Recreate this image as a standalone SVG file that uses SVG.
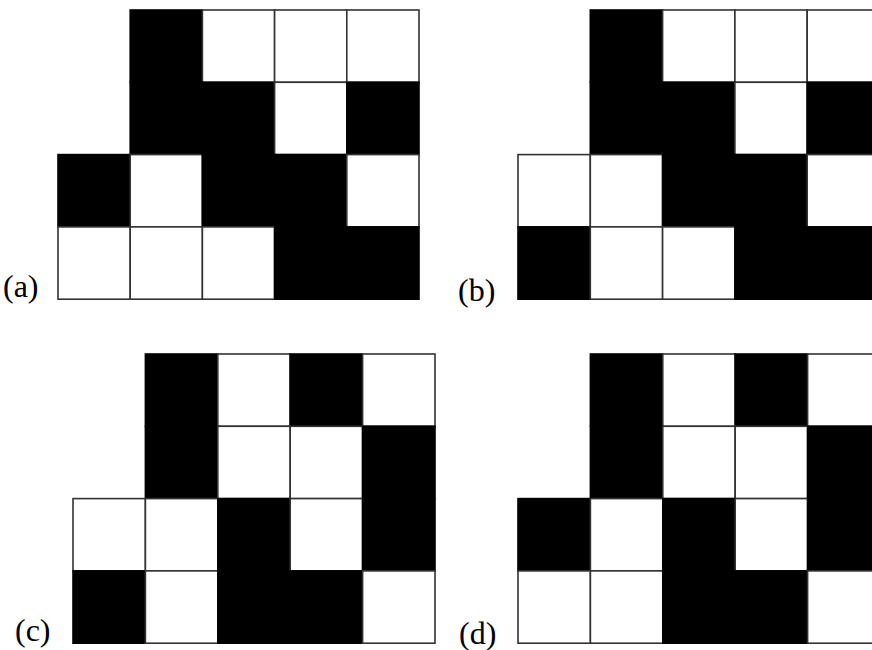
<svg xmlns="http://www.w3.org/2000/svg" width="872" height="650" viewBox="0 0 872 650">
<style>
.w{fill:#fff;stroke:#333;stroke-width:1.6}
.b{fill:#000;stroke:#000;stroke-width:1.6}
.lbl{font-family:"Liberation Serif","Times New Roman",serif;font-size:32px;fill:#000}
</style>
<rect width="872" height="650" fill="#fff"/>
<g id="panel-a">
<rect class="b" x="130.2" y="10" width="72.2" height="72.3"/>
<rect class="w" x="202.4" y="10" width="72.2" height="72.3"/>
<rect class="w" x="274.6" y="10" width="72.2" height="72.3"/>
<rect class="w" x="346.8" y="10" width="72.2" height="72.3"/>
<rect class="b" x="130.2" y="82.3" width="72.2" height="72.3"/>
<rect class="b" x="202.4" y="82.3" width="72.2" height="72.3"/>
<rect class="w" x="274.6" y="82.3" width="72.2" height="72.3"/>
<rect class="b" x="346.8" y="82.3" width="72.2" height="72.3"/>
<rect class="b" x="58" y="154.6" width="72.2" height="72.3"/>
<rect class="w" x="130.2" y="154.6" width="72.2" height="72.3"/>
<rect class="b" x="202.4" y="154.6" width="72.2" height="72.3"/>
<rect class="b" x="274.6" y="154.6" width="72.2" height="72.3"/>
<rect class="w" x="346.8" y="154.6" width="72.2" height="72.3"/>
<rect class="w" x="58" y="226.9" width="72.2" height="72.3"/>
<rect class="w" x="130.2" y="226.9" width="72.2" height="72.3"/>
<rect class="w" x="202.4" y="226.9" width="72.2" height="72.3"/>
<rect class="b" x="274.6" y="226.9" width="72.2" height="72.3"/>
<rect class="b" x="346.8" y="226.9" width="72.2" height="72.3"/>
<text class="lbl" x="3" y="297">(a)</text>
</g>
<g id="panel-b">
<rect class="b" x="590.3" y="10" width="72.3" height="72.3"/>
<rect class="w" x="662.6" y="10" width="72.3" height="72.3"/>
<rect class="w" x="734.9" y="10" width="72.3" height="72.3"/>
<rect class="w" x="807.2" y="10" width="72.3" height="72.3"/>
<rect class="b" x="590.3" y="82.3" width="72.3" height="72.3"/>
<rect class="b" x="662.6" y="82.3" width="72.3" height="72.3"/>
<rect class="w" x="734.9" y="82.3" width="72.3" height="72.3"/>
<rect class="b" x="807.2" y="82.3" width="72.3" height="72.3"/>
<rect class="w" x="518" y="154.6" width="72.3" height="72.3"/>
<rect class="w" x="590.3" y="154.6" width="72.3" height="72.3"/>
<rect class="b" x="662.6" y="154.6" width="72.3" height="72.3"/>
<rect class="b" x="734.9" y="154.6" width="72.3" height="72.3"/>
<rect class="w" x="807.2" y="154.6" width="72.3" height="72.3"/>
<rect class="b" x="518" y="226.9" width="72.3" height="72.3"/>
<rect class="w" x="590.3" y="226.9" width="72.3" height="72.3"/>
<rect class="w" x="662.6" y="226.9" width="72.3" height="72.3"/>
<rect class="b" x="734.9" y="226.9" width="72.3" height="72.3"/>
<rect class="b" x="807.2" y="226.9" width="72.3" height="72.3"/>
<text class="lbl" x="458" y="301">(b)</text>
</g>
<g id="panel-c">
<rect class="b" x="145.4" y="354" width="72.4" height="72.3"/>
<rect class="w" x="217.8" y="354" width="72.4" height="72.3"/>
<rect class="b" x="290.2" y="354" width="72.4" height="72.3"/>
<rect class="w" x="362.6" y="354" width="72.4" height="72.3"/>
<rect class="b" x="145.4" y="426.3" width="72.4" height="72.3"/>
<rect class="w" x="217.8" y="426.3" width="72.4" height="72.3"/>
<rect class="w" x="290.2" y="426.3" width="72.4" height="72.3"/>
<rect class="b" x="362.6" y="426.3" width="72.4" height="72.3"/>
<rect class="w" x="73" y="498.6" width="72.4" height="72.3"/>
<rect class="w" x="145.4" y="498.6" width="72.4" height="72.3"/>
<rect class="b" x="217.8" y="498.6" width="72.4" height="72.3"/>
<rect class="w" x="290.2" y="498.6" width="72.4" height="72.3"/>
<rect class="b" x="362.6" y="498.6" width="72.4" height="72.3"/>
<rect class="b" x="73" y="570.9" width="72.4" height="72.3"/>
<rect class="w" x="145.4" y="570.9" width="72.4" height="72.3"/>
<rect class="b" x="217.8" y="570.9" width="72.4" height="72.3"/>
<rect class="b" x="290.2" y="570.9" width="72.4" height="72.3"/>
<rect class="w" x="362.6" y="570.9" width="72.4" height="72.3"/>
<text class="lbl" x="15" y="641">(c)</text>
</g>
<g id="panel-d">
<rect class="b" x="590.4" y="354" width="72.4" height="72.3"/>
<rect class="w" x="662.8" y="354" width="72.4" height="72.3"/>
<rect class="b" x="735.2" y="354" width="72.4" height="72.3"/>
<rect class="w" x="807.6" y="354" width="72.4" height="72.3"/>
<rect class="b" x="590.4" y="426.3" width="72.4" height="72.3"/>
<rect class="w" x="662.8" y="426.3" width="72.4" height="72.3"/>
<rect class="w" x="735.2" y="426.3" width="72.4" height="72.3"/>
<rect class="b" x="807.6" y="426.3" width="72.4" height="72.3"/>
<rect class="b" x="518" y="498.6" width="72.4" height="72.3"/>
<rect class="w" x="590.4" y="498.6" width="72.4" height="72.3"/>
<rect class="b" x="662.8" y="498.6" width="72.4" height="72.3"/>
<rect class="w" x="735.2" y="498.6" width="72.4" height="72.3"/>
<rect class="b" x="807.6" y="498.6" width="72.4" height="72.3"/>
<rect class="w" x="518" y="570.9" width="72.4" height="72.3"/>
<rect class="w" x="590.4" y="570.9" width="72.4" height="72.3"/>
<rect class="b" x="662.8" y="570.9" width="72.4" height="72.3"/>
<rect class="b" x="735.2" y="570.9" width="72.4" height="72.3"/>
<rect class="w" x="807.6" y="570.9" width="72.4" height="72.3"/>
<text class="lbl" x="459" y="644">(d)</text>
</g>
</svg>
